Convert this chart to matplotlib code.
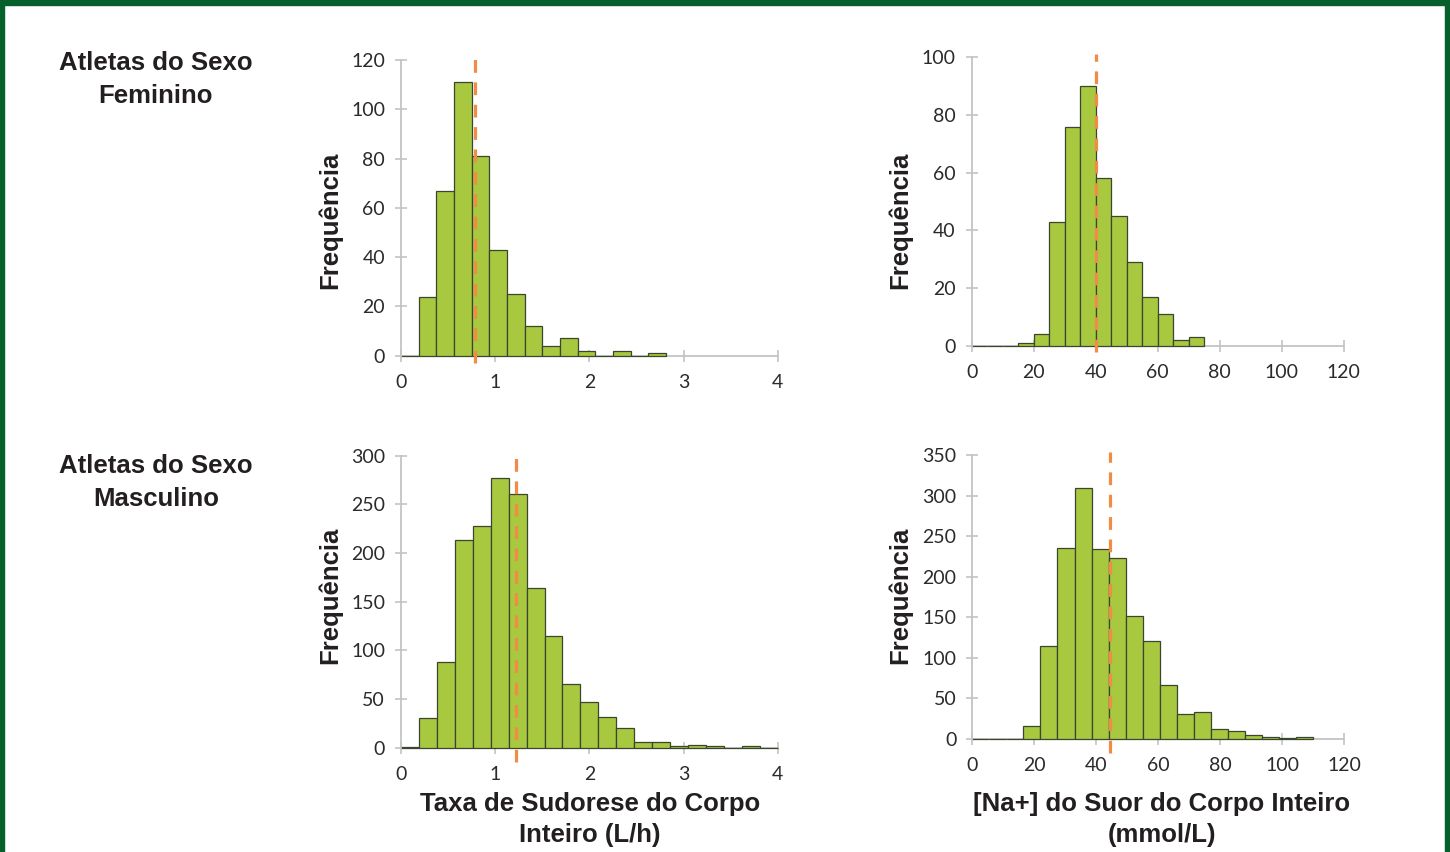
import matplotlib
matplotlib.use("Agg")
import matplotlib.pyplot as plt
import numpy as np
from matplotlib.patches import Rectangle

# ---------------- data ----------------
fem_rate_counts = [0, 24, 67, 111, 81, 43, 25, 12, 4, 7, 2, 0, 2, 0, 1]
fem_rate_bin_width = 0.1875
fem_rate_mean = 0.79

fem_na_counts = [0, 0, 0, 1, 4, 43, 76, 90, 58, 45, 29, 17, 11, 2, 3]
fem_na_bin_width = 5.0
fem_na_mean = 40.0

male_rate_counts = [1, 31, 88, 213, 228, 277, 261, 164, 115, 65, 47, 32, 20,
                    6, 6, 2, 3, 2, 0, 2, 0]
male_rate_bin_width = 4 / 21
male_rate_mean = 1.22

male_na_counts = [0, 0, 0, 16, 115, 236, 310, 234, 223, 152, 121, 66, 31, 33,
                  12, 9, 4, 2, 1, 2]
male_na_bin_width = 5.5
male_na_mean = 44.3

rate_xticks = [0, 1, 2, 3, 4]
na_xticks = [0, 20, 40, 60, 80, 100, 120]
fem_rate_yticks = [0, 20, 40, 60, 80, 100, 120]
fem_na_yticks = [0, 20, 40, 60, 80, 100]
male_rate_yticks = [0, 50, 100, 150, 200, 250, 300]
male_na_yticks = [0, 50, 100, 150, 200, 250, 300, 350]

row_labels = ["Atletas do Sexo\nFeminino", "Atletas do Sexo\nMasculino"]
ylabel = "Frequência"
xlabel_rate = "Taxa de Sudorese do Corpo\nInteiro (L/h)"
xlabel_na = "[Na+] do Suor do Corpo Inteiro\n(mmol/L)"

# ---------------- style ----------------
W, H = 1450, 852
BAR = "#a8c83f"
EDGE = "#3a4630"
MEAN = "#f08c46"
AXC = "#c4c4c4"
TXT = "#231f20"
BORDER = "#05602b"
TICKFONT = "Lato"
BOLDFONT = "Liberation Sans"

fig = plt.figure(figsize=(W / 100, H / 100), dpi=100)
fig.patch.set_facecolor("white")


def add_axes_px(x0, x1, ytop, ybot):
    return fig.add_axes([x0 / W, 1 - ybot / H, (x1 - x0) / W, (ybot - ytop) / H])


def draw_hist(ax, counts, width, mean, xticks, yticks, below):
    lefts = np.arange(len(counts)) * width
    ax.bar(lefts, counts, width=width, align="edge", color=BAR,
           edgecolor=EDGE, linewidth=0.9, zorder=2, clip_on=False)
    ax.set_xlim(xticks[0], xticks[-1])
    ax.set_ylim(yticks[0], yticks[-1])
    ax.set_xticks(xticks)
    ax.set_yticks(yticks)
    ax.axvline(mean, ymin=-below, ymax=1.01, color=MEAN, lw=2.3,
               dashes=(4, 3), clip_on=False, zorder=3)
    for s in ["top", "right"]:
        ax.spines[s].set_visible(False)
    for s in ["left", "bottom"]:
        ax.spines[s].set_color(AXC)
        ax.spines[s].set_linewidth(1.3)
    ax.spines["bottom"].set_zorder(1)
    ax.tick_params(axis="both", direction="inout", length=9, width=1.2,
                   color=AXC, labelsize=14, labelcolor="#2b2b2b")
    ax.tick_params(axis="x", pad=9)
    ax.tick_params(axis="y", pad=7)
    for lab in ax.get_xticklabels() + ax.get_yticklabels():
        lab.set_fontfamily(TICKFONT)
    ax.set_facecolor("none")


ax1 = add_axes_px(401, 777.7, 60, 355.7)
draw_hist(ax1, fem_rate_counts, fem_rate_bin_width, fem_rate_mean,
          rate_xticks, fem_rate_yticks, 0.025)
ax2 = add_axes_px(971.7, 1343.7, 57.3, 345.7)
draw_hist(ax2, fem_na_counts, fem_na_bin_width, fem_na_mean,
          na_xticks, fem_na_yticks, 0.022)
ax3 = add_axes_px(401, 777.7, 455.7, 747.7)
draw_hist(ax3, male_rate_counts, male_rate_bin_width, male_rate_mean,
          rate_xticks, male_rate_yticks, 0.05)
ax4 = add_axes_px(972.3, 1344, 455.3, 738.7)
draw_hist(ax4, male_na_counts, male_na_bin_width, male_na_mean,
          na_xticks, male_na_yticks, 0.05)

boldkw = dict(fontfamily=BOLDFONT, fontweight="bold", color=TXT)

# y labels
for xc, yc in [(330, 220), (900, 220), (330, 595), (900, 595)]:
    fig.text(xc / W, 1 - yc / H, ylabel, rotation=90, ha="center",
             va="center", fontsize=18.5, **boldkw)

# row labels
fig.text(156 / W, 1 - 79.5 / H, row_labels[0], ha="center", va="center",
         fontsize=18.5, linespacing=1.45, **boldkw)
fig.text(156 / W, 1 - 482.5 / H, row_labels[1], ha="center", va="center",
         fontsize=18.5, linespacing=1.45, **boldkw)

# x labels
fig.text(590 / W, 1 - 819.5 / H, xlabel_rate, ha="center", va="center",
         fontsize=18.5, linespacing=1.4, **boldkw)
fig.text(1162 / W, 1 - 819.5 / H, xlabel_na, ha="center", va="center",
         fontsize=18.5, linespacing=1.4, **boldkw)

# green frame
fig.patches.append(Rectangle((0, 1 - 5 / H), 1, 5 / H, transform=fig.transFigure,
                             color=BORDER, zorder=10))
fig.patches.append(Rectangle((0, 0), 4 / W, 1, transform=fig.transFigure,
                             color=BORDER, zorder=10))
fig.patches.append(Rectangle((1 - 5 / W, 0), 5 / W, 1, transform=fig.transFigure,
                             color=BORDER, zorder=10))

fig.savefig("out.png", dpi=100, facecolor="white")
